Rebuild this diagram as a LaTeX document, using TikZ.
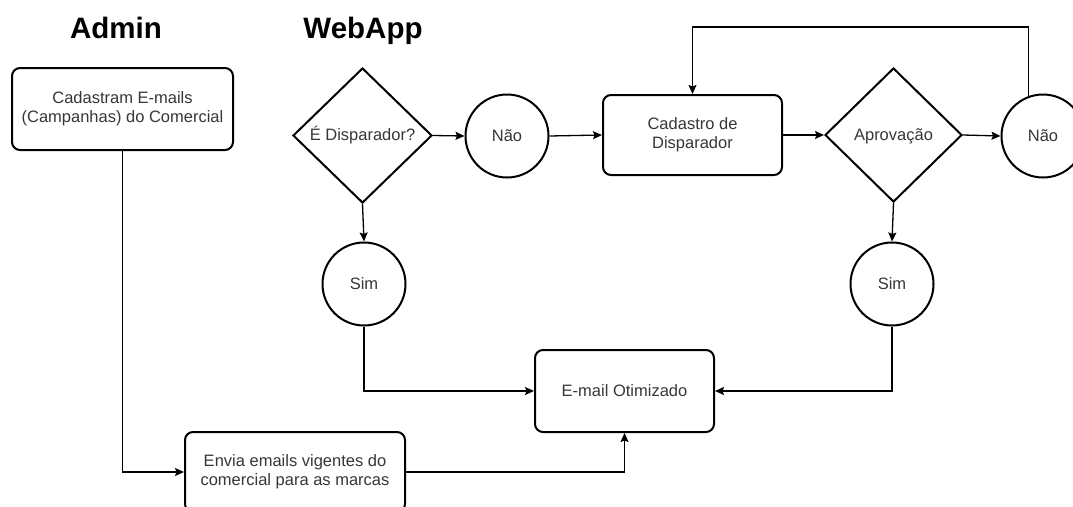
\documentclass[tikz,border=0pt]{standalone}
\usepackage{fontspec}
\setmainfont{Liberation Sans}
\usetikzlibrary{shapes.geometric,arrows.meta,calc}
\definecolor{txt}{RGB}{55,55,55}
\begin{document}
\begin{tikzpicture}[x=1pt,y=-1pt,
  title/.style={font=\fontsize{29.5}{32}\selectfont\bfseries, text=black, anchor=base},
  base/.style={draw=black, line width=2pt, fill=white, text=txt, align=center,
    font=\fontsize{16.5}{19}\selectfont, inner sep=0pt},
  rbox/.style={base, rectangle, rounded corners=8pt},
  decision/.style={base, diamond},
  term/.style={base, circle, minimum size=83pt},
  conn/.style={line width=1.3pt, draw=black},
  arr/.style={conn, -{Stealth[length=9pt,width=8pt,inset=1.5pt]}}]
\useasboundingbox (0,0) rectangle (1073,506);
\clip (0,0) rectangle (1073,506);
\fill[white] (0,0) rectangle (1073,506);

\node[title] (tadmin) at (116,38.5) {Admin};
\node[title] (twebapp) at (363,38.5) {WebApp};

\node[rbox, minimum width=221pt, minimum height=82pt] (admin) at (122.5,109)
  {Cadastram E-mails\\(Campanhas) do Comercial};
\node[decision, minimum width=139pt, minimum height=135pt] (d1) at (362.5,135.5) {É Disparador?};
\node[term] (n1) at (507,136) {Não};
\node[rbox, minimum width=179pt, minimum height=80pt] (cad) at (692.5,135) {Cadastro de\\Disparador};
\node[decision, minimum width=137pt, minimum height=134pt, text depth=0pt] (d2) at (893.5,135) {Aprovação};
\node[term] (n2) at (1043,136) {Não};
\node[term] (s1) at (364,284) {Sim};
\node[term] (s2) at (892,284) {Sim};
\node[rbox, minimum width=179pt, minimum height=82pt] (email) at (624.5,391) {E-mail Otimizado};
\node[rbox, minimum width=220pt, minimum height=80pt] (envia) at (295,472)
  {Envia emails vigentes do\\comercial para as marcas};

\coordinate (looptop) at (0,27);

\draw[arr] (admin.south) |- (envia.west);
\draw[arr] (d1.east) -- (n1.west);
\draw[arr] (n1.east) -- (cad.west);
\draw[arr] (cad.east) -- (d2.west);
\draw[arr] (d2.east) -- (n2.west);
\draw[arr] (n2.110) -- (n2.110 |- looptop) -| (cad.north);
\draw[arr] (d1.south) -- (s1.north);
\draw[arr] (d2.south) -- (s2.north);
\draw[arr] (s1.south) |- (email.west);
\draw[arr] (s2.south) |- (email.east);
\draw[arr] (envia.east) -| (email.south);
\end{tikzpicture}
\end{document}
